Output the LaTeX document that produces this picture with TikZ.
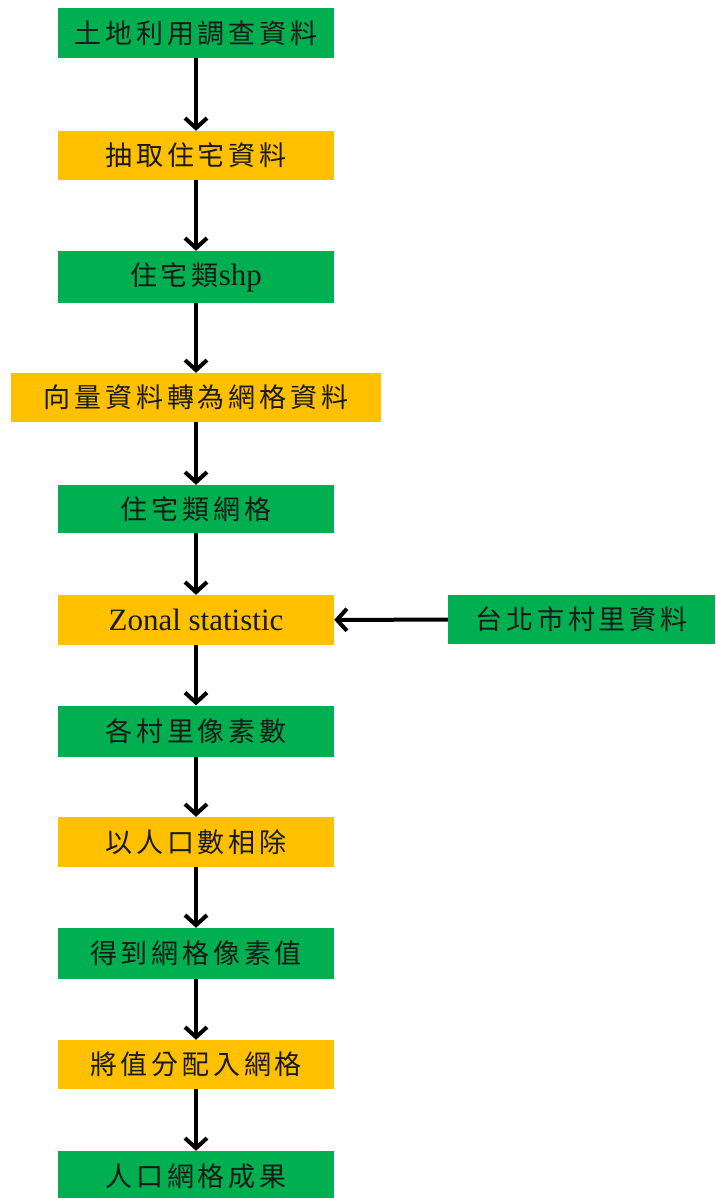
\documentclass[tikz,border=0pt]{standalone}
\usepackage{fontspec}
\setmainfont{Liberation Serif}
\newfontfamily\cjk[LetterSpace=14]{Noto Sans CJK TC}
\usetikzlibrary{arrows.meta}
\definecolor{boxgreen}{HTML}{00B050}
\definecolor{boxorange}{HTML}{FFC000}
\tikzset{
  base/.style={rectangle, inner sep=0pt, minimum height=50pt, text=black!90,
    font=\fontsize{27}{27}\selectfont},
  gbox/.style={base, fill=boxgreen, minimum width=276pt},
  obox/.style={base, fill=boxorange, minimum width=276pt},
  conn/.style={line width=4pt, -{Straight Barb[length=10pt, width=22pt, line width=4pt]}}
}
\begin{document}
\begin{tikzpicture}[x=1pt, y=-1pt]
\useasboundingbox (0,0) rectangle (715,1198);
\node[gbox] (n1) at (196,33) {\cjk 土地利用調查資料};
\node[obox, minimum height=49pt] (n2) at (196,155.5) {\cjk 抽取住宅資料};
\node[gbox, minimum height=52pt] (n3) at (196,277) {{\cjk 住宅類}\fontsize{31}{31}\selectfont shp};
\node[obox, minimum width=370pt, minimum height=49pt] (n4) at (196,397.5) {\cjk 向量資料轉為網格資料};
\node[gbox, minimum height=48pt] (n5) at (196,509) {\cjk 住宅類網格};
\node[obox] (n6) at (196,620) {\fontsize{31}{31}\selectfont Zonal statistic};
\node[gbox, minimum width=267pt, minimum height=49pt] (n7) at (581.5,619.5) {\cjk 台北市村里資料};
\node[gbox, minimum height=51pt] (n8) at (196,731) {\cjk 各村里像素數};
\node[obox] (n9) at (196,842) {\cjk 以人口數相除};
\node[gbox, minimum height=51pt] (n10) at (196,953.5) {\cjk 得到網格像素值};
\node[obox, minimum height=49pt] (n11) at (196,1064.5) {\cjk 將值分配入網格};
\node[gbox, minimum height=50pt] (n12) at (196,1176) {\cjk 人口網格成果};
\draw[conn] (n1) -- (n2);
\draw[conn] (n2) -- (n3);
\draw[conn] (n3) -- (n4);
\draw[conn] (n4) -- (n5);
\draw[conn] (n5) -- (n6);
\draw[conn] (n6) -- (n8);
\draw[conn] (n8) -- (n9);
\draw[conn] (n9) -- (n10);
\draw[conn] (n10) -- (n11);
\draw[conn] (n11) -- (n12);
\draw[conn] (n7) -- (n6);
\end{tikzpicture}
\end{document}
